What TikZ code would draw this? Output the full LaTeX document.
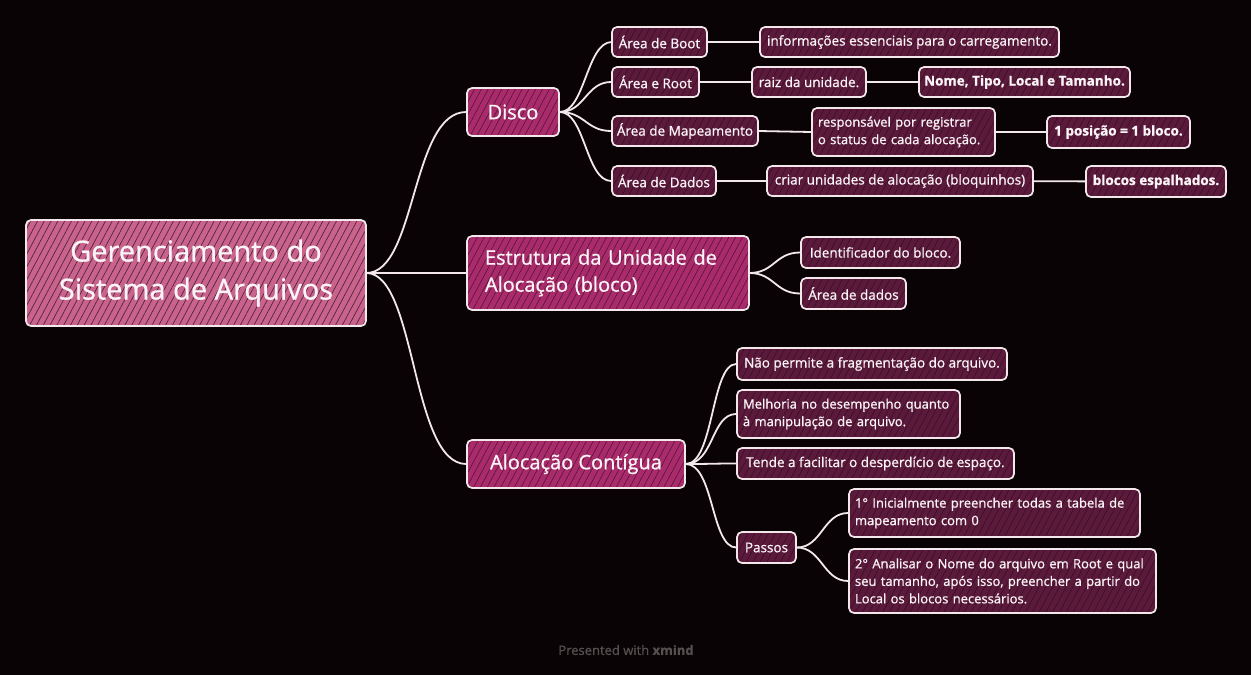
\documentclass[tikz,border=0pt]{standalone}
\usepackage{fontspec}
\setmainfont{Open Sans}[FakeBold=0.9]
\usetikzlibrary{patterns.meta}
\definecolor{bg}{HTML}{0A0306}
\definecolor{rootc}{HTML}{C9628D}
\definecolor{lonec}{HTML}{A92B6B}
\definecolor{ltwoc}{HTML}{5B1A3B}
\definecolor{edge}{HTML}{F2E8EC}
\definecolor{txt}{HTML}{FBF4F6}
\definecolor{brand}{HTML}{55504F}
\tikzset{
  box/.style={draw=edge, line width=1.7pt, rounded corners=5pt, text=txt, inner sep=0pt, align=left},
  rootbox/.style={box, preaction={fill=rootc}, pattern={Lines[angle=62,distance=6pt,line width=0.7pt]}, pattern color=rootc!40!black, font=\fontsize{29}{38}\selectfont, align=center},
  onebox/.style={box, preaction={fill=lonec}, pattern={Lines[angle=62,distance=6pt,line width=0.6pt]}, pattern color=lonec!50!black, font=\fontsize{20}{27}\selectfont},
  twobox/.style={box, preaction={fill=ltwoc}, pattern={Lines[angle=62,distance=6pt,line width=0.5pt]}, pattern color=ltwoc!55!black, font=\fontsize{13.5}{18}\selectfont},
  multi/.style={font=\fontsize{13}{17.5}\selectfont, text width=#1},
  sz/.style 2 args={minimum width=#1, minimum height=#2},
  link/.style={draw=edge, line width=1.8pt},
}
\begin{document}
\begin{tikzpicture}[x=1pt,y=-1pt]
\fill[bg] (0,0) rectangle (1251,675);
\useasboundingbox (0,0) rectangle (1251,675);
% root
\node[rootbox, sz={340pt}{106pt}] (root) at (196,273) {Gerenciamento do\\Sistema de Arquivos};
% level 1
\node[onebox, sz={282pt}{74pt}, text width=246pt] (estr) at (608,273) {Estrutura da Unidade de\\Alocação (bloco)};
\node[onebox, sz={92pt}{48pt}] (disco) at (513,112) {Disco};
\node[onebox, sz={218pt}{48pt}] (aloc) at (576,464) {Alocação Contígua};
% Disco branch
\node[twobox, sz={95pt}{30pt}] (boot) at (659.5,42) {Área de Boot};
\node[twobox, sz={299pt}{30pt}] (info) at (909.5,42) {informações essenciais para o carregamento.};
\node[twobox, sz={87pt}{30pt}] (aroot) at (655.5,82) {Área e Root};
\node[twobox, sz={114pt}{30pt}] (raiz) at (809,82) {raiz da unidade.};
\node[twobox, sz={211pt}{30pt}, font=\fontsize{13.5}{18}\selectfont\bfseries] (nome) at (1024.5,82) {Nome, Tipo, Local e Tamanho.};
\node[twobox, sz={146pt}{30pt}] (mapa) at (685,131) {Área de Mapeamento};
\node[twobox, sz={183pt}{48pt}, multi=171pt] (resp) at (903.5,132) {responsável por registrar\\o status de cada alocação.};
\node[twobox, sz={143pt}{32pt}, font=\fontsize{13.5}{18}\selectfont\bfseries] (pos) at (1118.5,132) {1 posição = 1 bloco.};
\node[twobox, sz={104pt}{30pt}] (dados) at (664,181) {Área de Dados};
\node[twobox, sz={266pt}{30pt}] (criar) at (900,181) {criar unidades de alocação (bloquinhos)};
\node[twobox, sz={140pt}{31pt}, font=\fontsize{13.5}{18}\selectfont\bfseries] (blocos) at (1156,181.5) {blocos espalhados.};
% Estrutura branch
\node[twobox, sz={159pt}{31pt}] (ident) at (880.5,252.5) {Identificador do bloco.};
\node[twobox, sz={105pt}{31pt}] (adados) at (853.5,293.5) {Área de dados};
% Alocacao branch
\node[twobox, sz={270pt}{32pt}] (nao) at (872,364) {Não permite a fragmentação do arquivo.};
\node[twobox, sz={223pt}{48pt}, multi=211pt] (melh) at (848.5,414) {Melhoria no desempenho quanto\\à manipulação de arquivo.};
\node[twobox, sz={277pt}{31pt}] (tende) at (875.5,463.5) {Tende a facilitar o desperdício de espaço.};
\node[twobox, sz={59pt}{31pt}] (passos) at (766.5,547.5) {Passos};
\node[twobox, sz={291pt}{48pt}, multi=279pt] (p1) at (994.5,513) {1° Inicialmente preencher todas a tabela de\\mapeamento com 0};
\node[twobox, sz={307pt}{64pt}, multi=295pt] (p2) at (1002.5,581) {2° Analisar o Nome do arquivo em Root e qual\\seu tamanho, após isso, preencher a partir do\\Local os blocos necessários.};
% connectors
\draw[link] (root.east) .. controls +(50,0) and +(-55,0) .. (disco.west);
\draw[link] (root.east) -- (estr.west);
\draw[link] (root.east) .. controls +(50,0) and +(-55,0) .. (aloc.west);
\foreach \c in {boot,aroot,mapa,dados}
  \draw[link] (disco.east) .. controls +(25,0) and +(-25,0) .. (\c.west);
\draw[link] (boot) -- (info);
\draw[link] (aroot) -- (raiz);
\draw[link] (raiz) -- (nome);
\draw[link] (mapa.east) -- (resp.west);
\draw[link] (resp.east) -- (pos.west);
\draw[link] (dados) -- (criar);
\draw[link] (criar) -- (blocos);
\foreach \c in {ident,adados}
  \draw[link] (estr.east) .. controls +(25,0) and +(-25,0) .. (\c.west);
\foreach \c in {nao,melh,tende,passos}
  \draw[link] (aloc.east) .. controls +(28,0) and +(-25,0) .. (\c.west);
\foreach \c in {p1,p2}
  \draw[link] (passos.east) .. controls +(25,0) and +(-25,0) .. (\c.west);
% footer
\node[text=brand, font=\fontsize{13}{15}\selectfont] (brandnode) at (626,650) {Presented with \textbf{xmind}};
\end{tikzpicture}
\end{document}
